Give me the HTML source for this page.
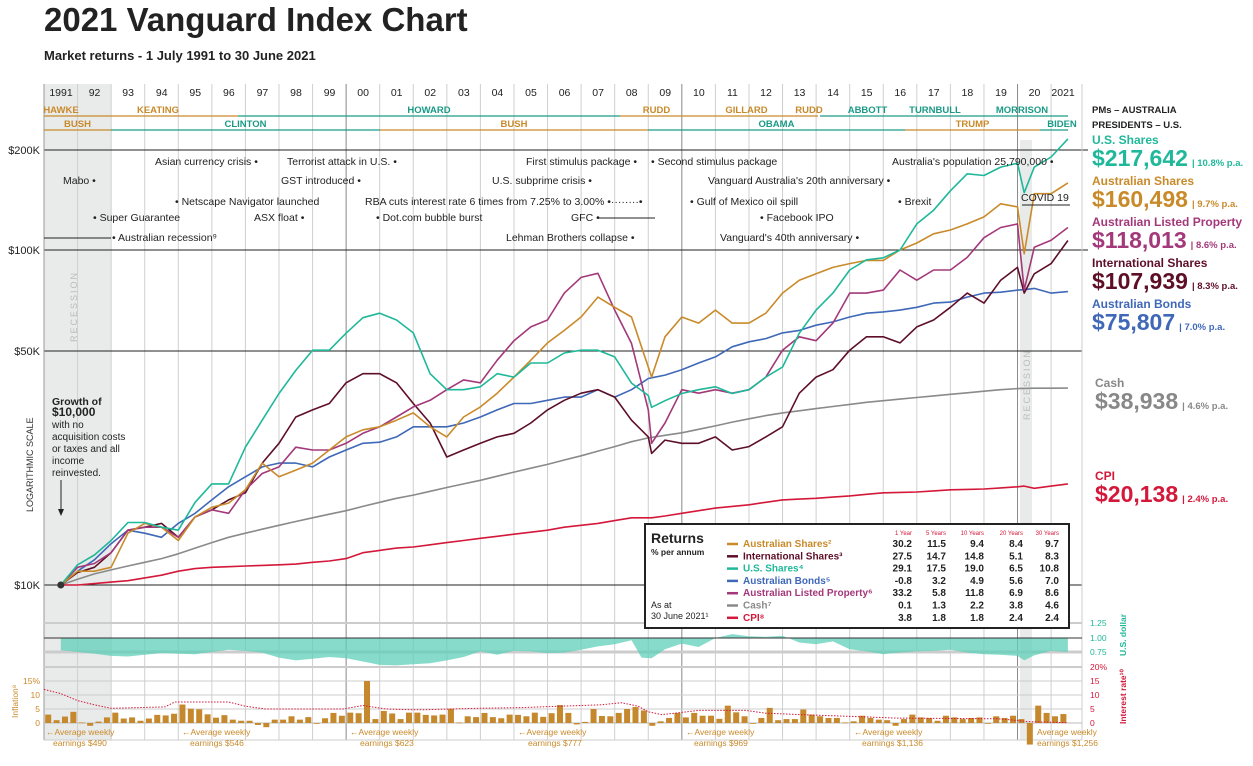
<!DOCTYPE html>
<html><head><meta charset="utf-8"><style>
html,body{margin:0;padding:0;background:#fff;}
svg{display:block;font-family:"Liberation Sans",sans-serif;}
</style></head><body>
<svg id="chart" width="1253" height="766" viewBox="0 0 1253 766" xmlns="http://www.w3.org/2000/svg">
<text x="44" y="31" font-size="33" font-weight="bold" fill="#222">2021 Vanguard Index Chart</text>
<text x="44" y="60" font-size="13" font-weight="bold" fill="#222">Market returns - 1 July 1991 to 30 June 2021</text>
<g id="bg">
<rect x="44" y="84" width="67" height="656" fill="#e9ebea"/>
<rect x="1020" y="140" width="12" height="600" fill="#e9ebea"/>
</g>
<g id="grid"></g>
<g id="header"></g>
<g id="lowpanel"></g>
<g id="series"></g>
<g id="events" font-size="10.5" fill="#222">
<text x="155" y="165">Asian currency crisis •</text>
<text x="287" y="165">Terrorist attack in U.S. •</text>
<text x="526" y="165">First stimulus package •</text>
<text x="651" y="165">• Second stimulus package</text>
<text x="892" y="165">Australia's  population 25,790,000 •</text>
<text x="63" y="184">Mabo •</text>
<text x="281" y="184">GST introduced •</text>
<text x="492" y="184">U.S. subprime crisis •</text>
<text x="708" y="184">Vanguard Australia's 20th anniversary •</text>
<text x="175" y="205">• Netscape Navigator launched</text>
<text x="365" y="205">RBA cuts interest rate 6 times from 7.25% to 3.00% •········•</text>
<text x="690" y="205">• Gulf of Mexico oil spill</text>
<text x="898" y="205">• Brexit</text>
<text x="1021" y="201">COVID 19</text>
<line x1="1022" y1="205" x2="1070" y2="205" stroke="#222"/>
<text x="93" y="221">• Super Guarantee</text>
<text x="254" y="221">ASX float •</text>
<text x="376" y="221">• Dot.com bubble burst</text>
<text x="571" y="221">GFC •</text>
<line x1="598" y1="218" x2="655" y2="218" stroke="#222"/>
<text x="760" y="221">• Facebook IPO</text>
<line x1="44" y1="238" x2="111" y2="238" stroke="#222"/>
<text x="112" y="241">• Australian recession⁹</text>
<text x="506" y="241">Lehman Brothers collapse •</text>
<text x="720" y="241">Vanguard's 40th anniversary •</text>
</g>
<g font-size="11" fill="#222" text-anchor="end">
<text x="40" y="154">$200K</text>
<text x="40" y="254">$100K</text>
<text x="40" y="355">$50K</text>
<text x="40" y="589">$10K</text>
</g>
<text transform="translate(33,512) rotate(-90)" font-size="9" fill="#333">LOGARITHMIC SCALE</text>
<text transform="translate(77,342) rotate(-90)" font-size="9" fill="#bbb" letter-spacing="2">RECESSION</text>
<text transform="translate(1030,420) rotate(-90)" font-size="9" fill="#bbb" letter-spacing="2">RECESSION</text>
<g font-size="10" fill="#222">
<text x="52" y="405" font-weight="bold" font-size="10.5">Growth of</text>
<text x="52" y="416" font-weight="bold" font-size="12">$10,000</text>
<text x="52" y="428">with no</text>
<text x="52" y="440">acquisition costs</text>
<text x="52" y="452">or taxes and all</text>
<text x="52" y="464">income</text>
<text x="52" y="476">reinvested.</text>
<line x1="61" y1="480" x2="61" y2="512" stroke="#222"/>
<path d="M58,509 L61,516 L64,509Z" fill="#222"/>
</g>
<g id="rightlabels">
<text x="1092" y="113" font-size="9.5" font-weight="bold" fill="#222">PMs – AUSTRALIA</text>
<text x="1092" y="128" font-size="9.5" font-weight="bold" fill="#222">PRESIDENTS – U.S.</text>
<text x="1092" y="144" font-size="12" font-weight="bold" fill="#1fb89a">U.S. Shares</text>
<text x="1092" y="166" font-size="23" font-weight="bold" fill="#1fb89a">$217,642<tspan font-size="9.5" dx="4">| 10.8% p.a.</tspan></text>
<text x="1092" y="185" font-size="12" font-weight="bold" fill="#c98a2a">Australian Shares</text>
<text x="1092" y="207" font-size="23" font-weight="bold" fill="#c98a2a">$160,498<tspan font-size="9.5" dx="4">| 9.7% p.a.</tspan></text>
<text x="1092" y="226" font-size="12" font-weight="bold" fill="#a3387a">Australian Listed Property</text>
<text x="1092" y="248" font-size="23" font-weight="bold" fill="#a3387a">$118,013<tspan font-size="9.5" dx="4">| 8.6% p.a.</tspan></text>
<text x="1092" y="267" font-size="12" font-weight="bold" fill="#5e0f28">International Shares</text>
<text x="1092" y="289" font-size="23" font-weight="bold" fill="#5e0f28">$107,939<tspan font-size="9.5" dx="4">| 8.3% p.a.</tspan></text>
<text x="1092" y="308" font-size="12" font-weight="bold" fill="#3f68b8">Australian Bonds</text>
<text x="1092" y="330" font-size="23" font-weight="bold" fill="#3f68b8">$75,807<tspan font-size="9.5" dx="4">| 7.0% p.a.</tspan></text>
<text x="1095" y="387" font-size="12" font-weight="bold" fill="#888">Cash</text>
<text x="1095" y="409" font-size="23" font-weight="bold" fill="#888">$38,938<tspan font-size="9.5" dx="4">| 4.6% p.a.</tspan></text>
<text x="1095" y="480" font-size="12" font-weight="bold" fill="#d4183a">CPI</text>
<text x="1095" y="502" font-size="23" font-weight="bold" fill="#d4183a">$20,138<tspan font-size="9.5" dx="4">| 2.4% p.a.</tspan></text>
</g>
<g id="returns">
<rect x="645" y="524" width="424" height="104" fill="#fff" stroke="#222" stroke-width="2"/>
<text x="651" y="543" font-size="14" font-weight="bold" fill="#222">Returns</text>
<text x="651" y="555" font-size="8.5" font-weight="bold" fill="#222">% per annum</text>
<text x="651" y="608" font-size="9" fill="#222">As at</text>
<text x="651" y="619" font-size="9" fill="#222">30 June 2021¹</text>
<g font-size="6" fill="#d4183a" text-anchor="end">
<text x="912" y="535">1 Year</text><text x="946" y="535">5 Years</text><text x="984" y="535">10 Years</text><text x="1023" y="535">20 Years</text><text x="1059" y="535">30 Years</text>
</g>
<g id="rtRows"></g>
</g>
<g font-size="8.5" fill="#c98a2a">
<text x="46" y="735">←Average weekly</text><text x="53" y="746">earnings $490</text>
<text x="182" y="735">←Average weekly</text><text x="190" y="746">earnings $546</text>
<text x="350" y="735">←Average weekly</text><text x="360" y="746">earnings $623</text>
<text x="518" y="735">←Average weekly</text><text x="528" y="746">earnings $777</text>
<text x="686" y="735">←Average weekly</text><text x="694" y="746">earnings $969</text>
<text x="854" y="735">←Average weekly</text><text x="862" y="746">earnings $1,136</text>
<text x="1037" y="735">Average weekly</text><text x="1037" y="746">earnings $1,256</text>
</g>
<script>
const dates=[1991.5,1992,1992.5,1993,1993.5,1994,1994.5,1995,1995.5,1996,1996.5,1997,1997.5,1998,1998.5,1999,1999.5,2000,2000.5,2001,2001.5,2002,2002.5,2003,2003.5,2004,2004.5,2005,2005.5,2006,2006.5,2007,2007.5,2008,2008.5,2009,2009.1,2009.5,2010,2010.5,2011,2011.5,2012,2012.5,2013,2013.5,2014,2014.5,2015,2015.5,2016,2016.5,2017,2017.5,2018,2018.5,2019,2019.5,2020,2020.2,2020.5,2021,2021.5];
const usShares=[10,11.5,12.3,13.6,15.4,15.4,14.9,14.6,17.7,20.1,20.1,25.9,31.2,37.5,44,50.6,50.6,56.9,63.3,65.3,62.3,57,43,38.5,38.5,39.3,43,42,46.3,46.3,49.6,50.6,50.6,48.3,40.3,37,34.1,35.7,37.5,38.5,39.3,37.5,38.5,42,45,56.9,66.7,75,88,94.4,95.7,101,121,133,152,171,169,179,184,150,179,192,217.6];
const ausShares=[10,11,11,11.3,14.3,15.3,14.9,13.6,16,17.1,17.6,19.3,23.2,21.1,22.1,23.2,25.4,27.8,29.2,29.8,31.2,32.8,29.8,27.8,31.9,34.2,37.6,42,47.2,53.2,58,63.6,73,68,63.6,45,42,55.5,63.6,61,66.7,61,61,65.3,75,82,85.7,89.6,92,94,94,101,106,113,116,121,127,139,136,98.5,149,149,160.5];
const intlShares=[10,10.9,11.3,12.5,14.6,14.9,15.3,13.9,16,16.8,18,18.9,23.2,26.6,31.9,33.5,35,40.4,43,43,40.4,35,30.6,24.2,25.4,26.6,27.8,28.5,30.6,33.5,35.8,37.6,38.5,36.6,31.2,27.8,24.8,27.2,26.6,26.6,27.8,25.4,26,27.8,29.8,37.6,42,44.2,50.6,55.5,55.5,53.2,59.4,62.3,68,75,70,82,89.6,75,85.7,92,107.9];
const property=[10,11.3,11.6,12.5,14.6,14.9,14.9,13.9,16,16.8,16.4,19.3,21.6,22.6,25.9,25.4,25.4,26.6,28.5,29.8,31.9,34.2,35.8,38.5,41.2,40.4,47.2,54,59.4,62.3,75,83.6,86,66.7,53,33.5,26.6,30.6,38.5,37.6,38.5,37.6,38.5,42,50.6,55.5,54,61,75,75,76.6,88,82,88,88,96,110,118,121,76.6,103,108,118];
const bonds=[10,11,11.9,13.3,14.6,14.3,13.9,15.3,16.4,18,19.7,21.1,22.6,23.2,23.2,22.6,24.2,25.4,26.6,26.8,27.8,29.8,29.8,29.8,30.6,31.9,33.5,35,35,35.8,36.6,36.6,38.5,36.6,38.5,41.6,41.8,42.6,44.2,46.3,48.3,51.8,53.6,54.8,57,58,60.1,61.5,63.6,65.3,65.9,66.7,68,70,70.5,73,75,75.5,76.6,76.8,77.5,75,75.8];
const cash=[10,10.4,10.8,11.1,11.4,11.7,12.0,12.4,12.9,13.4,13.9,14.3,14.7,15.1,15.5,15.9,16.3,16.7,17.2,17.7,18.2,18.6,19.1,19.6,20.1,20.6,21.2,21.8,22.4,23.0,23.7,24.4,25.2,26.0,26.9,27.6,27.7,28.1,28.6,29.3,30.0,30.8,31.5,32.2,32.8,33.3,33.8,34.3,34.8,35.3,35.7,36.1,36.5,36.9,37.3,37.7,38.1,38.5,38.8,38.85,38.9,38.9,38.94];
const cpi=[10,10,10.1,10.2,10.3,10.5,10.7,11.0,11.2,11.3,11.35,11.4,11.45,11.5,11.55,11.7,11.8,12.0,12.5,12.7,12.9,13.0,13.2,13.4,13.6,13.8,14.0,14.2,14.4,14.6,14.9,15.1,15.3,15.6,15.9,15.9,15.9,16.1,16.4,16.7,17.0,17.2,17.4,17.7,18.0,18.1,18.2,18.35,18.5,18.7,18.9,18.95,19.0,19.15,19.3,19.35,19.4,19.55,19.7,19.8,19.5,19.8,20.1];
const inflation=[3,1,2.3,4,0.2,-1,0.5,2,3.7,1.6,2,0.8,1.6,2.9,2.7,3.3,6.6,5.1,4.9,3.1,1.9,2.8,1.2,0.8,0.8,-0.7,-1.5,1.2,1.2,2.4,1.2,2.1,-0.2,1.7,3.6,2.6,3.7,3.5,15,1.4,4.3,3.4,1.4,3.7,3.7,2.9,2.7,3,5.1,0.2,2.4,2.1,3.6,2.1,1.7,3,2.9,2.4,3.7,2.2,3.5,6.4,3.6,-0.5,0.4,5,2.5,2.4,3.6,5,5.7,4.5,-1,0.6,1.8,3.6,2,3.6,2.6,2.6,1.5,6.2,3.8,2.4,0,1.8,5.4,1,1.4,1.4,4.8,3,2.4,1.8,1.8,0.2,0.6,2.6,1.8,1.2,1,-1,1.4,3,2,1.8,0.8,2.6,2,1.4,1.8,2,0,2.4,1.8,2.6,1.4,-7.7,6.2,3.6,2.4,3.2];
const rateDates=[1991.0,1991.5,1992.0,1992.5,1993.0,1994.6,1994.9,1996.5,1997.0,1997.6,1999.9,2000.5,2001.2,2001.9,2002.4,2003.9,2005.2,2006.4,2007.6,2008.2,2008.7,2009.0,2009.4,2009.8,2010.5,2011.9,2012.5,2013.5,2015.3,2016.4,2019.4,2019.9,2020.3,2021.5];
const rates=[12,10.5,8,6.5,5.25,5.75,7.5,7.5,6,5,5,6.25,5,4.75,4.75,5.25,5.5,6,6.5,7.25,6,4,3,3.5,4.5,4.5,3.5,3,2.25,1.75,1.5,1,0.5,0.1];
const curDates=[1991.5,1992,1992.5,1993,1993.5,1994,1994.5,1995,1995.5,1996,1996.5,1997,1997.5,1998,1998.5,1999,1999.5,2000,2000.5,2001,2001.5,2002,2002.5,2003,2003.5,2004,2004.5,2005,2005.5,2006,2006.5,2007,2007.5,2008,2008.5,2008.8,2009.1,2009.5,2010,2010.5,2011,2011.5,2012,2012.5,2013,2013.5,2014,2014.5,2015,2015.5,2016,2016.5,2017,2017.5,2018,2018.5,2019,2019.5,2020,2020.2,2020.5,2021,2021.5];
const audUsd=[.78,.75,.72,.68,.67,.70,.73,.72,.71,.75,.79,.77,.74,.65,.60,.63,.66,.64,.58,.52,.51,.53,.55,.6,.66,.76,.7,.77,.76,.73,.74,.79,.85,.89,.96,.65,.64,.8,.9,.84,1.0,1.07,1.03,1.02,1.04,.92,.89,.94,.8,.76,.71,.74,.76,.77,.79,.74,.71,.7,.68,.6,.69,.77,.75];
const yearLabels=["1991","92","93","94","95","96","97","98","99","00","01","02","03","04","05","06","07","08","09","10","11","12","13","14","15","16","17","18","19","20","2021"];
const returnNames=["Australian Shares²","International Shares³","U.S. Shares⁴","Australian Bonds⁵","Australian Listed Property⁶","Cash⁷","CPI⁸"];
const r1=["30.2","27.5","29.1","-0.8","33.2","0.1","3.8"];
const r5=["11.5","14.7","17.5","3.2","5.8","1.3","1.8"];
const r10=["9.4","14.8","19.0","4.9","11.8","2.2","1.8"];
const r20=["8.4","5.1","6.5","5.6","6.9","3.8","2.4"];
const r30=["9.7","8.3","10.8","7.0","8.6","4.6","2.4"];

const NS="http://www.w3.org/2000/svg";
const X=t=>44+(t-1991)*33.57;
const Y=v=>585-Math.log2(v/10)*100.4;
const YR=p=>723-p*2.8;
const YC=v=>638-(v-1)*56;
function mk(tag,attrs,parent){const e=document.createElementNS(NS,tag);for(const k in attrs)e.setAttribute(k,attrs[k]);parent.appendChild(e);return e;}

const grid=document.getElementById('grid');
for(let yr=1992;yr<=2021;yr++){
  const dark=(yr===2000||yr===2010||yr===2020);
  const l=mk('line',{x1:X(yr),x2:X(yr),y1:84,y2:740,stroke:dark?'#888':'#cfcfcf','stroke-width':1},grid);
  
  
}
[[44,150,1088],[44,250,1088],[44,351,1082],[44,585,1082]].forEach(a=>{
  const l=mk('line',{x1:a[0],x2:a[2],y1:a[1],y2:a[1],stroke:'#222','stroke-width':1},grid);
  
  
});
mk('line',{x1:44,x2:44,y1:84,y2:740,stroke:'#999'},grid);
mk('line',{x1:1082,x2:1082,y1:84,y2:740,stroke:'#ccc'},grid);

const hd=document.getElementById('header');
yearLabels.forEach((s,i)=>{
  const t=mk('text',{x:X(1991+i)+ (i===0?17:i===30?12:17),y:96,'font-size':10.5,'text-anchor':'middle',fill:'#222'},hd);
  t.textContent=s;
  
  
});
const gold='#c98a2a',teal='#1a9a86';
const pms=[["HAWKE",44,78,gold],["KEATING",78,238,gold],["HOWARD",238,620,teal],["RUDD",620,693,gold],["GILLARD",693,800,gold],["RUDD",800,818,gold],["ABBOTT",820,915,teal],["TURNBULL",915,980,teal],["MORRISON",980,1068,teal]];
pms.forEach(p=>{
  mk('line',{x1:p[1],x2:p[2],y1:116,y2:116,stroke:p[3],'stroke-width':1.3},hd);
  const t=mk('text',{x:p[0]==="HAWKE"?61:(p[0]==="TURNBULL"?935:(p[0]==="MORRISON"?1022:(p[1]+p[2])/2)),y:113,'font-size':9.5,'font-weight':'bold','text-anchor':'middle',fill:p[3]},hd);
  t.textContent=p[0];
  
  
});
const pres=[["BUSH",44,111,gold],["CLINTON",111,380,teal],["BUSH",380,648,gold],["OBAMA",648,905,teal],["TRUMP",905,1040,gold],["BIDEN",1040,1068,teal]];
pres.forEach(p=>{
  mk('line',{x1:p[1],x2:p[2],y1:130,y2:130,stroke:p[3],'stroke-width':1.3},hd);
  const t=mk('text',{x:p[0]==="BIDEN"?1062:(p[1]+p[2])/2,y:127,'font-size':9.5,'font-weight':'bold','text-anchor':'middle',fill:p[3]},hd);
  t.textContent=p[0];
  
  
});

const lp=document.getElementById('lowpanel');
[[623,'#ccc',2],[652,'#ccc',3],[667,'#ccc',2],[681,'#ccc',1],[695,'#ccc',1],[709,'#ccc',1],[723,'#bbb',1],[740,'#ccc',1]].forEach(a=>{
  mk('line',{x1:44,x2:1082,y1:a[0],y2:a[0],stroke:a[1],'stroke-width':a[2]},lp);
});
let cd='M'+X(curDates[0])+','+YC(1);
curDates.forEach((d,i)=>{cd+=' L'+X(d).toFixed(1)+','+YC(audUsd[i]).toFixed(1);});
cd+=' L'+X(curDates[curDates.length-1])+','+YC(1)+'Z';
const area=mk('path',{d:cd,fill:'#5fcfb8','fill-opacity':0.75},lp);


mk('line',{x1:44,x2:1082,y1:638,y2:638,stroke:'#333','stroke-width':1},lp);
inflation.forEach((v,i)=>{
  const cx=44+(i+0.5)*8.39;
  const y0=YR(0),y1=YR(v);
  const b=mk('rect',{x:cx-3,y:Math.min(y0,y1),width:6,height:Math.max(0.8,Math.abs(y1-y0)),fill:'#c5882c'},lp);
  
  
});
let rd='';
rateDates.forEach((d,i)=>{const x=X(d),y=YR(rates[i]);rd+=(i?' L':'M')+x.toFixed(1)+','+y.toFixed(1);});
const rl=mk('path',{d:rd,fill:'none',stroke:'#d4183a','stroke-width':1,'stroke-dasharray':'1.5,1.5'},lp);


[["15%",681],["10",695],["5",709],["0",723]].forEach(a=>{
  const t=mk('text',{x:40,y:a[1]+3,'font-size':8.5,'text-anchor':'end',fill:gold},lp);t.textContent=a[0];
  
  
});
[["1.25",623,'#1fb89a'],["1.00",638,'#1fb89a'],["0.75",652,'#1fb89a'],["20%",667,'#d4183a'],["15",681,'#d4183a'],["10",695,'#d4183a'],["5",709,'#d4183a'],["0",723,'#d4183a']].forEach(a=>{
  const t=mk('text',{x:1090,y:a[1]+3,'font-size':8.5,fill:a[2]},lp);t.textContent=a[0];
  
  
});
const t1=mk('text',{transform:'translate(18,718) rotate(-90)','font-size':8.5,fill:gold},lp);t1.textContent='Inflation⁸';


const t2=mk('text',{transform:'translate(1126,656) rotate(-90)','font-size':8.5,'font-weight':'bold',fill:'#1fb89a'},lp);t2.textContent='U.S. dollar';


const t3=mk('text',{transform:'translate(1126,724) rotate(-90)','font-size':8.5,'font-weight':'bold',fill:'#d4183a'},lp);t3.textContent='Interest rate¹⁰';



const sg=document.getElementById('series');
const series=[[cash,'#8a8a8a','cash-line'],[cpi,'#d4183a','cpi-line'],[bonds,'#3f68b8','bonds-line'],[intlShares,'#5e0f28','intl-shares-line'],[property,'#a3387a','property-line'],[ausShares,'#c98a2a','aus-shares-line'],[usShares,'#1fb89a','us-shares-line']];
series.forEach(s=>{
  let d='';
  dates.forEach((t,i)=>{d+=(i?' L':'M')+X(t).toFixed(1)+','+Y(s[0][i]).toFixed(1);});
  const p=mk('path',{d:d,fill:'none',stroke:s[1],'stroke-width':1.6,'stroke-linejoin':'round'},sg);
  
  
});
const dot=mk('circle',{cx:X(1991.5),cy:Y(10),r:3.5,fill:'#333'},sg);



const rt=document.getElementById('rtRows');
const rcol=['#c98a2a','#5e0f28','#1fb89a','#3f68b8','#a3387a','#8a8a8a','#d4183a'];
returnNames.forEach((n,i)=>{
  const y=547+i*12.3;
  mk('line',{x1:727,x2:738,y1:y-3,y2:y-3,stroke:rcol[i],'stroke-width':2.5},rt);
  const t=mk('text',{x:743,y:y,'font-size':10,'font-weight':'bold',fill:rcol[i]},rt);t.textContent=n;
  
  
  [[r1,912],[r5,946],[r10,984],[r20,1023],[r30,1059]].forEach(c=>{
    const v=mk('text',{x:c[1],y:y,'font-size':10,'font-weight':'bold','text-anchor':'end',fill:'#222'},rt);v.textContent=c[0][i];
    
    
  });
});
</script>
</svg>
</body></html>
